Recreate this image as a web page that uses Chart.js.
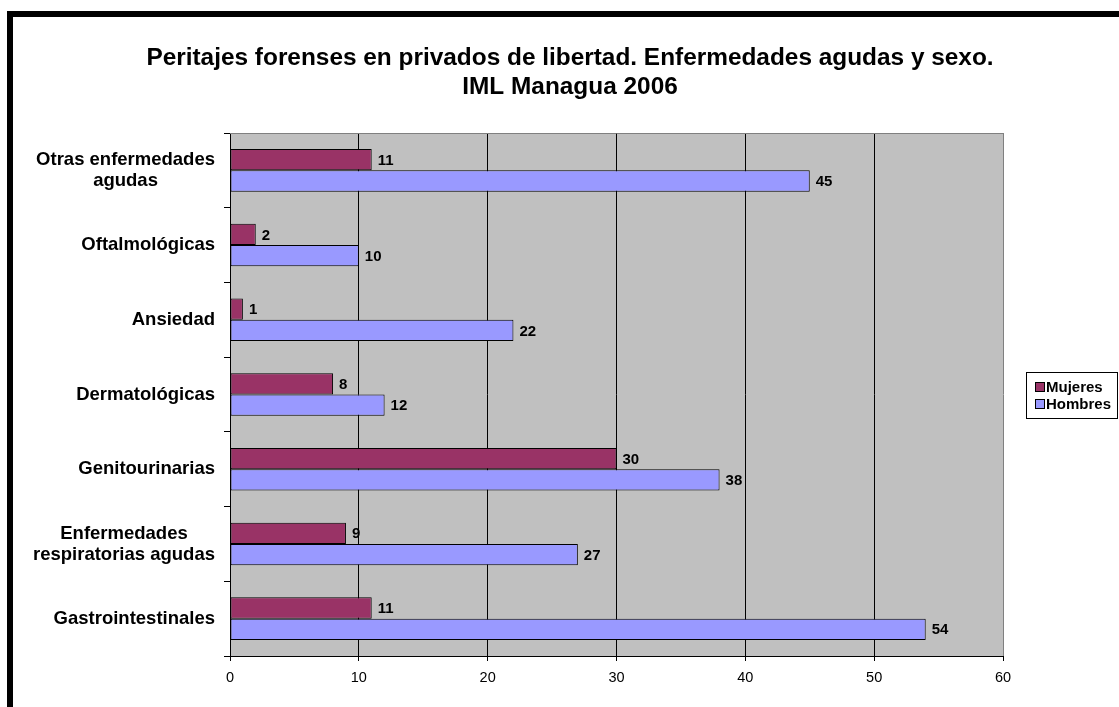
<!doctype html>
<html>

<head>
    <meta charset="utf-8">
    <title>Peritajes forenses</title>
    <script src="https://cdn.jsdelivr.net/npm/chart.js"></script>
    <style>
        body { margin: 0; background: #fff; }
        #marco { position: absolute; left: 7px; top: 11px; right: 0; bottom: 0; border-top: 6px solid #000; border-left: 6px solid #000; pointer-events: none; }
        #caja { position: absolute; left: 0; top: 0; width: 1119px; height: 707px; }
    </style>
</head>

<body>
    <div id="caja"><canvas id="grafico" width="1119" height="707"></canvas></div>
    <div id="marco"></div>

    <script>
        var categorias = [
            ['Otras enfermedades', 'agudas'],
            'Oftalmológicas',
            'Ansiedad',
            'Dermatológicas',
            'Genitourinarias',
            ['Enfermedades', 'respiratorias agudas'],
            'Gastrointestinales'
        ];
        var mujeres = [11, 2, 1, 8, 30, 9, 11];
        var hombres = [45, 10, 22, 12, 38, 27, 54];
        var titulo = ['Peritajes forenses en privados de libertad. Enfermedades agudas y sexo.', 'IML Managua 2006'];

        var fuente = "'Liberation Sans', Arial, sans-serif";

        var dibujos = {
            id: 'dibujos',
            beforeDraw: function (chart) {
                var c = chart.ctx, a = chart.chartArea;
                c.save();
                c.fillStyle = '#C0C0C0';
                c.fillRect(a.left, a.top, a.right - a.left, a.bottom - a.top);
                c.restore();
            },
            afterDraw: function (chart) {
                var c = chart.ctx, a = chart.chartArea;
                c.save();
                // borde superior gris
                c.strokeStyle = '#808080';
                c.lineWidth = 1;
                c.beginPath();
                c.moveTo(a.left, a.top + 0.5);
                c.lineTo(a.right, a.top + 0.5);
                c.stroke();

                // titulo
                c.fillStyle = '#000';
                c.textAlign = 'center';
                c.textBaseline = 'alphabetic';
                c.font = 'bold 24.4px ' + fuente;
                c.fillText(titulo[0], 570, 65);
                c.fillText(titulo[1], 570, 94);

                // etiquetas de categorias
                var ey = chart.scales.y;
                c.font = 'bold 18.5px ' + fuente;
                c.textBaseline = 'middle';
                categorias.forEach(function (cat, i) {
                    var lineas = Array.isArray(cat) ? cat : [cat];
                    var ancho = 0;
                    lineas.forEach(function (l) { ancho = Math.max(ancho, c.measureText(l).width); });
                    var cx = 215 - ancho / 2;
                    var cy = ey.getPixelForTick(i);
                    var alto = 21;
                    lineas.forEach(function (l, j) {
                        c.fillText(l, cx, cy + (j - (lineas.length - 1) / 2) * alto);
                    });
                });

                // valores de las barras
                c.font = 'bold 15px ' + fuente;
                c.textAlign = 'left';
                chart.data.datasets.forEach(function (ds, d) {
                    var meta = chart.getDatasetMeta(d);
                    meta.data.forEach(function (barra, i) {
                        c.fillText(String(ds.data[i]), barra.x + 6, barra.y + 1);
                    });
                });

                // leyenda
                var lx = 1026, ly = 372, lw = 91, lh = 46;
                c.fillStyle = '#fff';
                c.fillRect(lx, ly, lw, lh);
                c.strokeStyle = '#000';
                c.strokeRect(lx + 0.5, ly + 0.5, lw, lh);
                chart.data.datasets.forEach(function (ds, d) {
                    var fy = ly + 15 + d * 17;
                    c.fillStyle = ds.backgroundColor;
                    c.fillRect(lx + 10, fy - 4, 8, 8);
                    c.strokeStyle = '#000';
                    c.strokeRect(lx + 9.5, fy - 4.5, 9, 9);
                    c.fillStyle = '#000';
                    c.fillText(ds.label, lx + 20, fy + 1);
                });
                c.restore();
            }
        };

        var grafico = new Chart(document.getElementById('grafico').getContext('2d'), {
            type: 'bar',
            data: {
                labels: categorias,
                datasets: [{
                    label: 'Mujeres',
                    data: mujeres,
                    backgroundColor: '#993366',
                    borderColor: '#000',
                    borderWidth: 1,
                    borderSkipped: false,
                    categoryPercentage: 0.57,
                    barPercentage: 1
                }, {
                    label: 'Hombres',
                    data: hombres,
                    backgroundColor: '#9999FF',
                    borderColor: '#000',
                    borderWidth: 1,
                    borderSkipped: false,
                    categoryPercentage: 0.57,
                    barPercentage: 1
                }]
            },
            options: {
                indexAxis: 'y',
                responsive: false,
                animation: false,
                layout: { padding: { top: 133, right: 116, left: 0, bottom: 0 } },
                plugins: {
                    legend: { display: false },
                    title: { display: false },
                    tooltip: { enabled: false }
                },
                scales: {
                    x: {
                        min: 0,
                        max: 60,
                        ticks: { stepSize: 10, color: '#000', padding: 8, font: { family: fuente, size: 14.5 } },
                        grid: {
                            color: function (ctx) { return ctx.tick && ctx.tick.value === 60 ? '#808080' : '#000'; },
                            tickColor: '#000',
                            tickLength: 5
                        },
                        border: { color: '#000' },
                        afterFit: function (s) { s.height = 51; }
                    },
                    y: {
                        ticks: { display: false },
                        grid: { drawOnChartArea: false, tickLength: 6, color: '#000', offset: true },
                        border: { color: '#000' },
                        afterFit: function (s) { s.width = 230; }
                    }
                }
            },
            plugins: [dibujos]
        });
    </script>
</body>

</html>
